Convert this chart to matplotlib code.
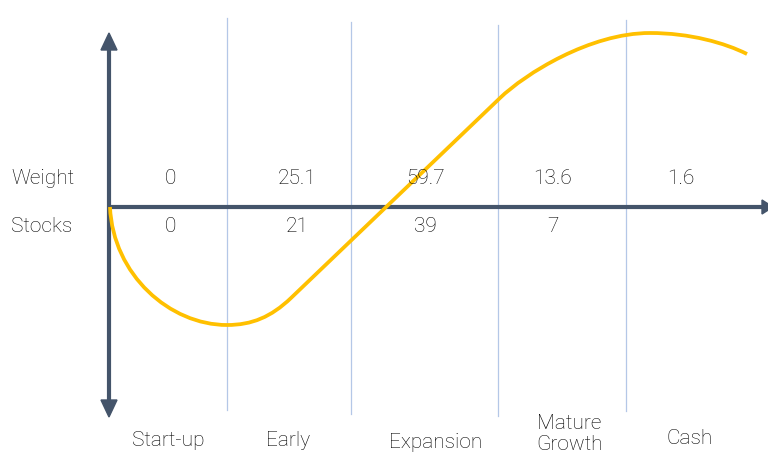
import matplotlib
matplotlib.use("Agg")
import matplotlib.pyplot as plt
from matplotlib.path import Path
from matplotlib.patches import PathPatch, Polygon

# Stage data
stages = ["Start-up", "Early", "Expansion", "Mature\nGrowth", "Cash"]
weight = ["0", "25.1", "59.7", "13.6", "1.6"]
stocks = ["0", "21", "39", "7", ""]

# Layout (pixel space)
W, H = 768, 454
col_centers = [170, 297, 425, 553, 681]
stage_x = [168, 288, 436, 569, 690]
stage_y = [440, 440, 442, 434, 438]
dividers_x = [227, 351, 498, 626]
dividers_top = [18, 22, 25, 20]
dividers_bot = [410, 414, 416, 411]
axis_x, axis_y = 109, 207

# Life-cycle curve: Bezier anchors and control points
curve_verts = [
    (110, 207), (113, 275), (170, 325), (227, 325),
    (252, 325), (271, 317), (291, 298),
    (500, 98),
    (525, 74), (590, 33), (650, 33),
    (690, 33), (725, 43), (747, 54),
]
curve_codes = [Path.MOVETO] + [Path.CURVE4] * 6 + [Path.LINETO] + [Path.CURVE4] * 6

AXIS_C = "#44546A"
GRID_C = "#B4C7E7"
CURVE_C = "#FFC000"
TEXT_C = "#000000"

plt.rcParams["font.family"] = ["Roboto", "DejaVu Sans"]

fig = plt.figure(figsize=(W / 100, H / 100), dpi=100)
ax = fig.add_axes([0, 0, 1, 1])
ax.set_xlim(0, W)
ax.set_ylim(H, 0)
ax.axis("off")

# stage dividers
for x, t, b in zip(dividers_x, dividers_top, dividers_bot):
    ax.plot([x, x], [t, b], color=GRID_C, lw=0.9, zorder=1)

# axes with arrowheads
ax.plot([axis_x, axis_x], [48, 402], color=AXIS_C, lw=3, solid_capstyle="butt", zorder=3)
ax.plot([axis_x, 764], [axis_y, axis_y], color=AXIS_C, lw=3, solid_capstyle="butt", zorder=3)
ax.add_patch(Polygon([(axis_x, 33), (axis_x - 8, 50), (axis_x + 8, 50)], closed=True,
                     color=AXIS_C, zorder=3))
ax.add_patch(Polygon([(axis_x, 417), (axis_x - 8, 400), (axis_x + 8, 400)], closed=True,
                     color=AXIS_C, zorder=3))
ax.add_patch(Polygon([(773, axis_y), (762, axis_y - 7), (762, axis_y + 7)], closed=True,
                     color=AXIS_C, zorder=3))

# curve
ax.add_patch(PathPatch(Path(curve_verts, curve_codes), facecolor="none",
                       edgecolor=CURVE_C, lw=2.7, capstyle="butt", zorder=4))

fs = 15
kw = dict(fontsize=fs, color=TEXT_C, va="center", fontweight="light")
ax.text(11, 178, "Weight", ha="left", **kw)
ax.text(11, 226, "Stocks", ha="left", **kw)
for cx, w, s in zip(col_centers, weight, stocks):
    ax.text(cx, 178, w, ha="center", zorder=5, **kw)
    if s:
        ax.text(cx, 226, s, ha="center", zorder=5, **kw)

for sx, sy, name in zip(stage_x, stage_y, stages):
    ax.text(sx, sy, name, ha="center", linespacing=1.15, **kw)

fig.savefig("out.png", dpi=100)
